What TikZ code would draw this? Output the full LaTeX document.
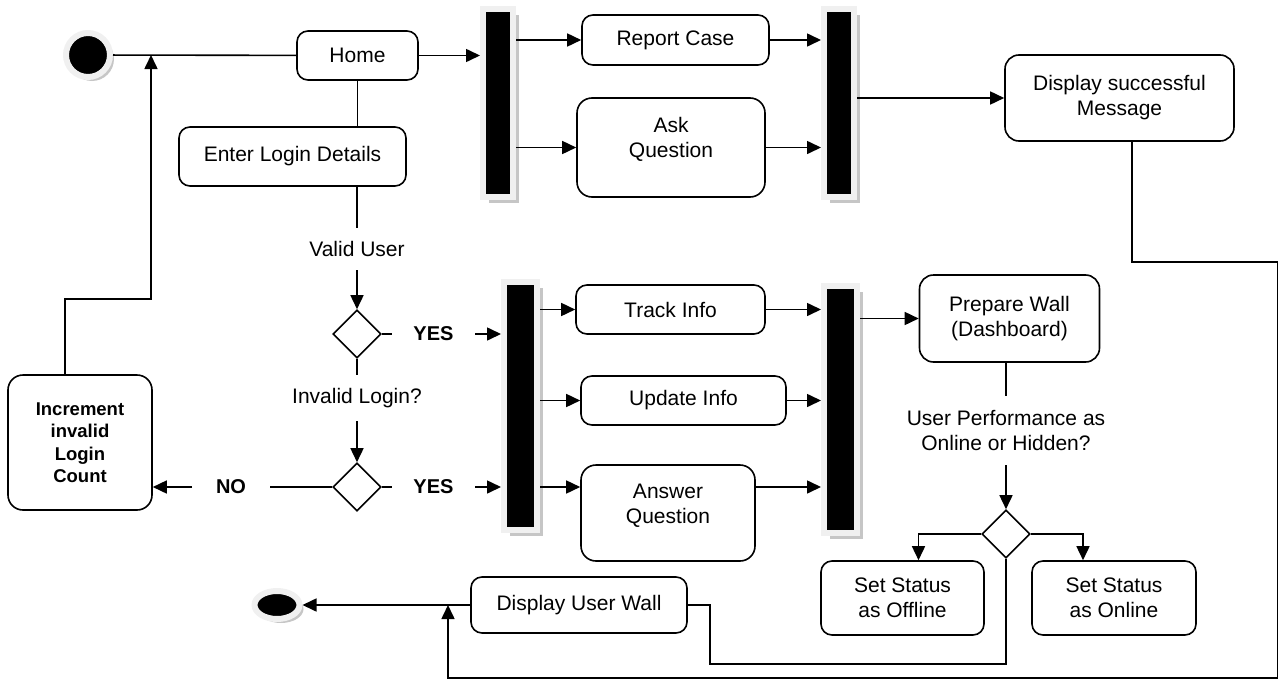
\documentclass[tikz,border=0pt]{standalone}
\usepackage{fontspec}
\setmainfont{Liberation Sans}
\usetikzlibrary{arrows.meta,shapes.geometric,shadows}
\begin{document}
\begin{tikzpicture}[x=1pt,y=-1pt,
  font=\fontsize{21}{25}\selectfont,
  lw/.style={line width=1.6pt},
  box/.style={draw, lw, rounded corners=11pt, inner sep=0pt, align=center, fill=white},
  sz/.style 2 args={minimum width=#1pt, minimum height=#2pt},
  arr/.style={lw, -{Triangle[length=14pt,width=13pt]}},
  conn/.style={lw},
  forkbar/.style 2 args={fill=black, draw=gray!12, line width=6pt, inner sep=0pt,
     minimum width=#1, minimum height=#2,
     drop shadow={shadow xshift=6pt, shadow yshift=-6pt, fill=gray!45, opacity=1}},
  term/.style={fill=black, draw=gray!12, line width=6pt, inner sep=0pt,
     drop shadow={shadow xshift=4pt, shadow yshift=-4pt, fill=gray!45, opacity=1}},
  dec/.style={diamond, draw, lw, fill=white, inner sep=0pt, minimum width=48pt, minimum height=48pt},
  lbl/.style={inner sep=0pt, outer sep=0pt, align=center},
  ybold/.style={lbl, font=\fontsize{20}{24}\selectfont\bfseries}
]
\useasboundingbox (0,0) rectangle (1279,680);

% nodes
\node[term, circle, minimum size=44pt] (start) at (88,55) {};
\node[box, sz={121}{49}] (home) at (357.5,55.5) {Home};
\node[box, sz={227}{59}] (enter) at (292.5,156.5) {Enter Login Details};
\node[forkbar={30pt}{188pt}] (bar1) at (498,103) {};
\node[box, sz={187}{50}] (report) at (675.5,40) {Report Case};
\node[box, rounded corners=15pt, sz={188}{99}, label={[lbl,yshift=8pt]center:Ask\\Question}] (ask) at (671,147.5) {};
\node[forkbar={30pt}{188pt}] (bar2) at (839,103) {};
\node[box, rounded corners=14pt, sz={229}{86}] (dsm) at (1119.5,98) {Display successful\\Message};

\node[lbl, minimum height=42pt] (vu) at (357,249) {Valid User};
\node[dec] (d1) at (357,334) {};
\node[ybold, minimum width=83pt] (yes1) at (433.5,334) {YES};
\node[lbl, minimum height=46pt] (il) at (357,398) {Invalid Login?};
\node[dec] (d2) at (357,487) {};
\node[ybold, minimum width=83pt] (yes2) at (433.5,487) {YES};
\node[ybold, minimum width=78pt] (no) at (231,487) {NO};
\node[box, rounded corners=15pt, sz={144}{135}, font=\fontsize{18.5}{22.5}\selectfont\bfseries] (inc) at (80,442.5) {Increment\\invalid\\Login\\Count};

\node[forkbar={33pt}{248pt}] (bar3) at (520.5,406) {};
\node[box, sz={189}{49}] (track) at (670.5,309.5) {Track Info};
\node[box, sz={205}{49}] (update) at (683.5,400.5) {Update Info};
\node[box, rounded corners=15pt, sz={174}{96}, label={[lbl,yshift=7.5pt]center:Answer\\Question}] (answer) at (668,513) {};
\node[forkbar={33pt}{247pt}] (bar4) at (840.5,409.5) {};
\node[box, rounded corners=14pt, sz={180}{87}] (prep) at (1009.5,318.5) {Prepare Wall\\(Dashboard)};
\node[lbl, minimum height=69pt] (upo) at (1006,430.5) {User Performance as\\Online or Hidden?};
\node[dec] (d3) at (1006,534) {};
\node[box, sz={163}{74}] (off) at (902.5,598) {Set Status\\as Offline};
\node[box, sz={164}{74}] (on) at (1114,598) {Set Status\\as Online};
\node[box, sz={216}{56}] (duw) at (579,605) {Display User Wall};
\node[term, ellipse, minimum width=45pt, minimum height=28pt] (end) at (277,605) {};

\coordinate (j1) at (151,55);
\coordinate (j2) at (448,605);

% connectors
\draw[conn] (start) -- (home);
\draw[arr] ([xshift=-15pt]inc.north) -- ++(0,-75) -| (j1);
\draw[arr] (home) -- (home -| bar1.west);
\draw[arr] (report -| bar1.east) -- (report);
\draw[arr] (ask -| bar1.east) -- (ask);
\draw[arr] (report) -- (report -| bar2.west);
\draw[arr] (ask) -- (ask -| bar2.west);
\draw[arr] (dsm -| bar2.east) -- (dsm);
\draw[conn] (home.south) -- (home.south |- enter.north);
\draw[conn] (vu.north |- enter.south) -- (vu.north);
\draw[arr] (vu.south) -- (d1.north);
\draw[conn] (d1.east) -- (yes1.west);
\draw[arr] (yes1.east) -- (yes1.east -| bar3.west);
\draw[conn] (d1.south) -- (il.north);
\draw[arr] (il.south) -- (d2.north);
\draw[conn] (d2.east) -- (yes2.west);
\draw[arr] (yes2.east) -- (yes2.east -| bar3.west);
\draw[conn] (d2.west) -- (no.east);
\draw[arr] (no.west) -- (no.west -| inc.east);
\draw[arr] (track -| bar3.east) -- (track);
\draw[arr] (update -| bar3.east) -- (update);
\draw[arr] (yes2 -| bar3.east) -- (yes2 -| answer.west);
\draw[arr] (track) -- (track -| bar4.west);
\draw[arr] (update) -- (update -| bar4.west);
\draw[arr] (yes2 -| answer.east) -- (yes2 -| bar4.west);
\draw[arr] (prep -| bar4.east) -- (prep);
\draw[conn] (upo.north |- prep.south) -- (upo.north);
\draw[arr] (upo.south) -- (d3.north);
\draw[arr] (d3.west) -| ([xshift=16pt]off.north);
\draw[arr] (d3.east) -| ([xshift=-31pt]on.north);
\draw[conn] (d3.south) |- (710,664) |- (duw.east);
\draw[arr] (duw) -- (end);
\draw[arr] ([xshift=12.5pt]dsm.south) |- (1277.5,262) -- (1277.5,678) -| (j2);
\end{tikzpicture}
\end{document}
